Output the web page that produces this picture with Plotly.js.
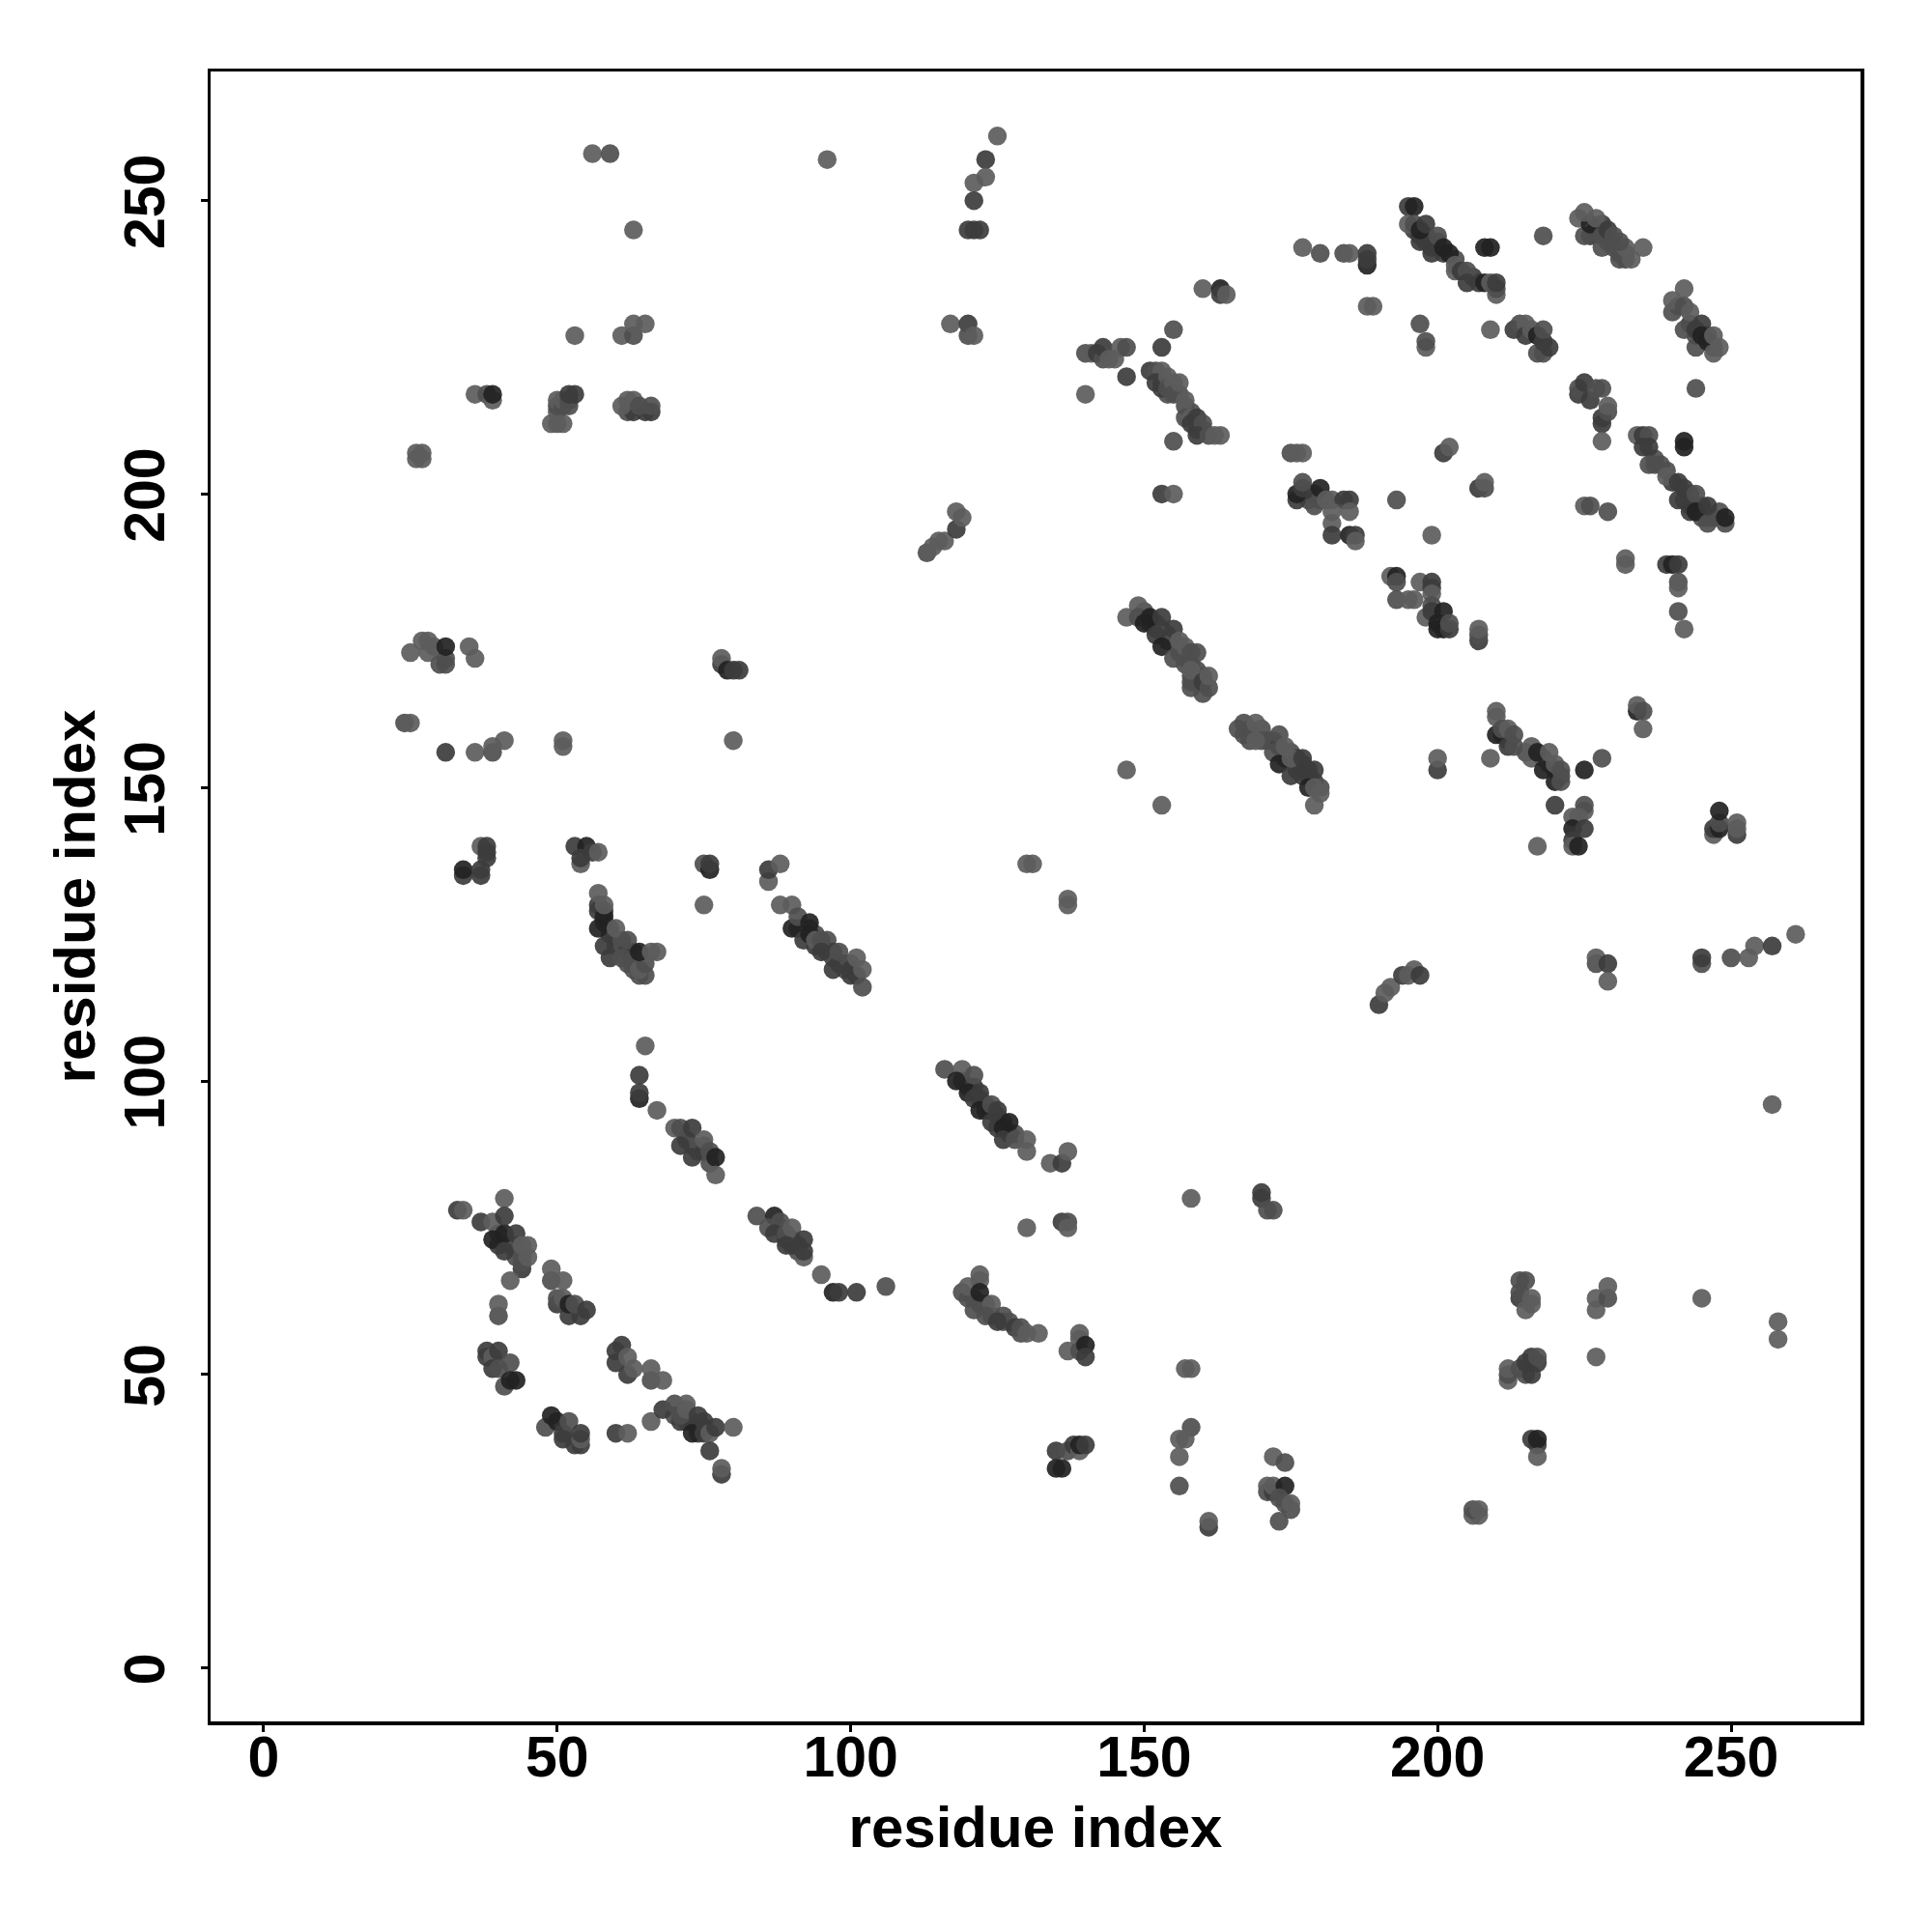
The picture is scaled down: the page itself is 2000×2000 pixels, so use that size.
<!DOCTYPE html>
<html><head><meta charset="utf-8">
<script src="https://cdn.plot.ly/plotly-3.0.1.min.js"></script>
<style>html,body{margin:0;padding:0;background:#fff}</style></head>
<body><div id="chart" style="width:2000px;height:2000px"></div>
<script>
// each contact: [residue i, residue j, weight class 1 (weak) .. 4 (strong)]
const bandFillA = [[91,126,3],[92,126,3],[93,126,3],[94,125,2],[94,123,3],[95,123,3],[96,124,2],[96,122,3],[97,122,3],[97,121,2],[98,120,3],[99,120,3],[99,119,2],[100,120,2],[100,119,3],[101,118,3],[57,130,3],[58,129,3],[58,127,4],[59,126,3],[59,125,3],[60,124,3],[60,123,3],[61,123,2],[61,124,2],[62,122,3],[62,120,2],[63,122,3],[63,119,2],[65,118,2],[64,118,2]];
const bandFillB = [[119,100,3],[120,99,3],[121,99,3],[121,98,3],[122,97,3],[123,96,3],[123,95,3],[124,95,3],[125,94,3],[125,92,3],[126,93,3],[127,91,3],[128,91,2],[150,180,2],[151,178,3],[152,178,3],[152,177,3],[153,177,2],[154,176,2],[154,175,3],[155,175,2],[156,173,2],[156,174,2],[157,172,2],[157,171,2],[158,171,2],[158,169,2],[159,168,2],[160,169,2],[159,170,2],[158,167,2]];
const bandFillC = [[168,160,2],[167,159,2],[170,160,2],[170,158,2],[171,158,2],[172,158,2],[173,157,3],[174,155,3],[175,156,2],[176,155,3],[176,153,3],[177,154,3],[177,152,3],[178,152,3],[178,153,3],[179,151,3],[180,150,2],[196,245,3],[197,244,3],[198,244,3],[199,243,3],[199,242,3],[200,242,3],[200,243,2],[201,241,3],[203,240,2],[206,237,3],[207,236,3],[198,243,3]];
const bandFillD = [[226,244,3],[227,245,3],[228,246,3],[229,243,2],[230,242,2],[231,241,2],[232,241,2],[232,240,2],[237,206,2],[237,205,2],[239,204,2],[240,202,3],[242,199,3],[243,200,2],[243,198,3],[245,198,3],[245,197,3],[245,196,2],[246,196,2],[247,196,2],[248,197,2],[153,219,2],[154,217,2],[156,217,2],[157,215,2],[158,214,2],[159,212,2],[160,211,2],[159,211,2]];
const bandFillE = [[120,63,2],[121,63,2],[122,62,2],[123,62,2],[124,60,2],[127,59,2],[126,59,2],[211,159,3],[212,158,3],[215,156,2],[218,155,3],[219,154,2],[220,153,3],[221,152,2],[88,75,3],[89,73,3],[90,73,3],[91,72,3],[91,71,2],[90,72,3],[40,74,3],[40,72,3],[42,72,3],[43,72,2],[43,70,2],[44,70,2]];
const bandFillF = [[72,90,3],[73,89,2],[74,88,2],[75,89,2],[75,88,3],[76,86,2],[241,232,2],[243,229,3],[244,227,2],[246,227,3],[247,225,2],[178,200,3],[178,199,2],[179,200,3],[180,199,2],[70,43,2],[72,42,2],[73,42,3],[74,41,3],[75,41,3],[74,40,3]];
const lowerLeftA = [[33,78,3],[34,78,1],[37,76,3],[39,76,1],[41,80,1],[39,73,4],[41,74,4],[41,71,3],[41,77,3],[43,74,3],[44,68,3],[44,69,2],[45,70,1],[44,72,1],[45,72,1],[42,66,1],[40,60,2],[40,62,1]];
const lowerLeftB = [[49,66,2],[49,68,1],[51,66,1],[50,62,3],[50,63,2],[51,63,1],[52,60,3],[54,60,3],[52,62,4],[53,62,2],[55,61,3]];
const lowerLeftC = [[38,54,3],[38,53,3],[39,53,1],[40,54,3],[39,51,3],[40,51,2],[41,48,2],[42,52,2],[42,49,4],[43,49,4]];
const lowerLeftD = [[60,54,3],[60,52,3],[61,55,3],[62,50,3],[62,53,1],[63,51,1],[66,49,2],[66,51,1],[68,49,1]];
const lowerLeftE = [[48,41,2],[49,43,4],[50,42,4],[51,39,3],[51,40,3],[52,42,2],[54,38,3],[53,38,3],[54,39,1],[54,40,3],[60,40,3],[62,40,1]];
const lowerLeftF = [[66,42,1],[68,44,3],[70,45,2],[71,42,3],[71,43,2],[72,45,1],[72,44,1],[73,40,4],[75,40,3],[75,42,3],[74,43,3],[76,40,1],[77,41,3],[80,41,1],[76,37,3],[78,33,3],[78,34,1]];
const sheetA = [[84,77,2],[87,77,4],[86,75,2],[88,76,2],[87,74,3],[89,74,2],[90,75,1],[89,72,3],[92,70,1],[92,71,3],[92,73,3],[95,67,1],[97,64,4],[98,64,3],[101,64,3],[106,65,2]];
const strandA = [[34,135,3],[34,136,4],[37,135,3],[37,136,3],[37,140,1],[38,138,3],[38,139,3],[38,140,3]];
const strandB = [[53,140,3],[55,140,4],[54,137,1],[54,138,3],[56,139,3],[57,139,1]];
const strandC = [[57,129,3],[58,128,4],[57,132,1],[58,130,1],[57,126,4],[58,123,3],[60,126,1],[59,121,3],[62,124,2],[61,121,2],[63,120,2],[64,119,1],[65,120,2],[64,122,4],[66,122,1],[67,122,1]];
const strandD = [[75,137,2],[76,136,4],[76,137,3],[75,130,1],[86,134,1],[86,136,3],[88,137,1]];
const strandE = [[88,130,1],[90,130,1],[90,126,4],[91,128,2],[92,124,3],[93,125,4],[93,127,4],[94,124,1],[95,124,2],[95,122,3],[97,119,3],[98,122,2],[100,118,3],[101,121,1],[102,119,1],[102,116,2]];
const strandF = [[65,106,1],[64,101,3],[64,97,4],[64,98,3],[67,95,1],[70,92,1],[71,92,2],[73,92,3],[71,89,3],[73,87,3],[75,90,1],[76,88,2],[77,87,4],[77,84,1]];
const upperLeftA = [[56,258,1],[59,258,2],[96,257,1],[125,261,1],[123,257,3],[123,254,1],[121,253,1],[121,250,3],[120,245,3],[121,245,3],[122,245,3],[63,245,1],[117,229,1],[120,229,3],[120,227,2],[121,227,1]];
const upperLeftB = [[53,227,1],[61,227,1],[63,227,2],[63,229,1],[65,229,1],[36,217,1],[38,217,2],[39,216,1],[39,217,4]];
const upperLeftC = [[49,212,1],[50,212,1],[51,212,1],[50,214,1],[50,215,2],[50,216,1],[51,215,2],[51,216,1],[52,215,2],[52,216,2],[52,217,3],[53,217,3]];
const upperLeftD = [[62,214,2],[63,214,3],[65,214,3],[66,214,3],[61,215,1],[62,216,1],[63,216,1],[64,215,2],[66,215,2],[26,206,1],[27,206,1],[26,207,1],[27,207,1]];
const midA = [[140,224,2],[141,224,1],[142,224,3],[143,223,2],[143,225,3],[144,223,1],[145,223,1],[146,225,1],[147,225,2],[140,217,1],[147,220,3],[153,225,3],[155,228,2]];
const midB = [[151,221,3],[152,221,2],[153,221,1],[152,219,3],[153,218,3],[154,220,1],[154,218,2],[155,219,1],[155,217,2],[156,219,1],[157,216,1]];
const midC = [[157,213,2],[158,213,1],[158,212,3],[159,213,3],[160,212,2],[159,210,3],[161,210,2],[162,210,1],[163,210,1],[155,209,2],[153,200,3],[155,200,1]];
const midD = [[160,235,1],[163,235,4],[163,234,3],[164,234,1],[175,207,2],[176,207,1],[177,207,1],[177,242,1],[180,241,2],[184,241,2],[185,241,1],[188,239,4],[188,240,3],[188,241,3],[188,232,1],[189,232,1]];
const upperRightA = [[195,249,3],[196,249,4],[195,246,1],[196,246,2],[197,243,3],[197,245,4],[198,246,3],[199,241,3],[200,244,2],[201,242,4],[202,241,4],[203,238,1],[203,239,1],[204,238,3],[205,238,2],[205,236,3],[208,236,4],[209,236,1],[210,234,1],[210,235,2],[210,236,3],[208,242,4],[209,242,4],[218,244,2]];
const upperRightB = [[224,247,1],[225,244,2],[226,246,4],[225,248,1],[227,247,1],[228,244,2],[229,245,3],[228,242,2],[230,244,2],[231,240,2],[232,242,1],[231,243,2],[233,240,1],[235,242,1]];
const upperRightC = [[197,229,2],[198,225,1],[198,226,2],[209,228,1],[213,228,3],[214,229,2],[215,229,1],[215,227,3],[216,228,1],[217,224,2],[218,224,2],[217,227,4],[218,226,3],[218,228,2],[219,225,3]];
const upperRightD = [[224,217,3],[224,218,2],[225,219,3],[226,216,3],[227,218,2],[228,218,2],[228,212,3],[228,213,3],[229,214,2],[229,215,1],[244,218,2],[228,209,1]];
const upperRightE = [[242,235,1],[240,231,2],[240,233,1],[242,232,2],[243,231,1],[242,228,2],[244,225,2],[244,228,3],[245,229,3],[245,227,4],[246,226,4],[247,224,1],[247,227,1],[248,225,1]];
const upperRightF = [[234,210,1],[235,210,3],[236,210,2],[235,208,3],[236,208,3],[236,205,2],[238,205,2],[239,203,1],[241,202,3],[242,201,3],[241,199,3],[243,197,3],[244,200,2],[244,197,4],[246,195,2],[246,198,3],[249,195,2],[249,196,4],[242,208,4],[242,209,4]];
const upperRightG = [[225,198,1],[226,198,2],[229,197,2],[201,207,3],[202,208,1],[207,201,3],[208,201,2],[208,202,1],[193,199,2],[199,193,1],[232,188,1],[232,189,1],[239,188,3],[240,188,4],[241,188,3],[241,185,2],[241,184,1],[241,180,2],[242,177,1]];
const upperRightH = [[176,199,3],[176,200,4],[177,201,3],[177,202,2],[179,198,2],[180,201,4],[181,199,1],[182,199,1],[184,199,3],[185,199,3],[185,197,1],[182,197,1],[182,195,1],[182,193,3],[185,193,4],[186,193,3],[186,192,1]];
const upperRightI = [[192,186,1],[193,186,4],[193,185,2],[193,182,2],[195,182,1],[196,182,1],[197,185,1],[198,179,1],[199,185,3],[199,184,3],[199,183,1],[199,181,2],[199,180,3],[200,177,4],[200,178,4],[201,180,4],[201,177,4],[202,177,3],[202,178,2],[207,175,3],[207,176,2],[207,177,1]];
const beltA = [[147,179,1],[149,181,1],[149,179,2],[150,178,4],[151,179,4],[153,179,3],[152,176,3],[153,174,4],[155,177,3],[155,172,2],[156,175,1],[157,174,1],[158,173,2],[159,173,2],[158,168,2],[158,170,1],[160,166,2],[160,168,3],[161,167,2],[161,169,1]];
const beltB = [[166,160,2],[167,161,2],[169,161,1],[168,158,2],[169,158,1],[172,156,2],[173,154,4],[173,159,2],[174,157,1],[175,152,3],[175,155,1],[177,155,3],[178,150,4],[179,153,3],[179,147,1],[179,150,1],[180,149,1]];
const beltC = [[209,155,1],[210,159,4],[210,162,1],[210,163,1],[211,160,2],[212,157,3],[212,160,1],[213,157,2],[213,159,2],[216,155,1],[216,157,1],[217,156,4],[218,153,4],[219,156,1],[220,151,4],[220,154,1],[221,151,2],[221,153,2],[225,153,4],[228,155,2],[200,153,3],[200,155,1],[147,153,1],[153,147,1]];
const beltD = [[220,147,3],[225,146,1],[225,147,2],[223,145,1],[224,145,1],[223,143,4],[225,143,3],[223,141,3],[223,140,1],[224,140,4],[217,140,1],[234,163,4],[234,164,1],[235,163,2],[235,160,1],[247,142,1],[247,143,3],[248,143,4],[248,144,2],[248,146,4],[251,142,3],[251,143,1],[251,144,1]];
const centerA = [[113,190,2],[114,191,1],[115,192,1],[116,192,1],[118,194,3],[118,197,1],[119,196,1],[78,171,3],[78,172,1],[79,170,4],[80,170,3],[81,170,3],[80,158,1]];
const centerB = [[25,173,1],[27,175,1],[28,175,1],[28,173,1],[29,174,1],[30,171,2],[31,171,2],[31,172,2],[31,174,4],[35,174,1],[36,172,1],[24,161,2],[25,161,1],[31,156,3],[36,156,1],[39,156,2],[39,157,1],[41,158,1],[51,157,1],[51,158,1]];
const centerC = [[130,137,1],[131,137,1],[137,130,1],[137,131,1],[190,113,3],[191,115,1],[192,116,1],[194,118,3],[195,118,1],[196,119,1],[197,118,3]];
const rightA = [[227,120,2],[227,121,1],[229,120,3],[229,117,1],[245,120,2],[245,121,3],[250,121,2],[253,121,1],[254,123,1],[257,123,3],[261,125,1],[257,96,1]];
const lowerMidA = [[116,102,2],[119,102,1],[118,100,4],[121,101,2],[120,98,4],[122,98,3],[121,97,3],[122,95,4],[124,96,2],[125,95,3],[124,93,3],[126,92,4],[126,90,3],[127,93,4],[128,90,2],[130,90,1],[130,88,1],[134,86,1],[136,86,3],[137,88,1]];
const lowerMidB = [[136,76,3],[137,76,2],[137,75,1],[130,75,1],[158,80,1],[170,81,3],[170,80,3],[171,78,2],[172,78,2]];
const lowerMidC = [[122,67,1],[122,66,1],[119,64,2],[120,65,1],[122,64,4],[124,62,1],[121,61,2],[123,60,2],[126,60,2],[125,59,3],[128,58,3],[129,57,2],[129,58,2],[130,57,1],[132,57,1]];
const lowerMidD = [[139,57,1],[139,56,1],[137,54,1],[139,54,2],[140,55,4],[140,53,3],[157,51,1],[158,51,1],[158,41,2],[156,39,1],[157,39,1],[156,36,1],[156,31,2]];
const lowerMidE = [[135,37,3],[137,37,2],[138,38,3],[139,37,1],[139,38,4],[140,38,3],[135,34,4],[136,34,4],[161,24,3],[161,25,1]];
const lowerRightA = [[172,36,1],[174,35,2],[171,30,2],[171,31,1],[172,30,3],[172,31,1],[174,31,4],[173,29,2],[174,28,2],[175,27,2],[175,28,1],[173,25,2],[206,26,1],[207,26,1],[206,27,2],[207,27,1]];
const lowerRightB = [[212,49,1],[212,50,2],[212,51,1],[214,51,2],[215,50,2],[216,50,3],[215,52,3],[216,53,3],[217,52,3],[217,53,2],[216,39,3],[217,38,3],[217,39,4],[217,36,1]];
const lowerRightC = [[214,63,3],[214,64,2],[214,66,2],[215,66,2],[216,63,1],[215,61,1],[216,62,1],[227,61,1],[227,63,1],[229,63,2],[229,65,1],[227,53,1],[245,63,1],[258,59,1],[258,56,1]];

const axisTicks = [0, 50, 100, 150, 200, 250];
const axisLabel = 'residue index';

const contacts = [].concat(bandFillA, bandFillB, bandFillC, bandFillD, bandFillE, bandFillF,
  lowerLeftA, lowerLeftB, lowerLeftC, lowerLeftD, lowerLeftE, lowerLeftF, sheetA,
  strandA, strandB, strandC, strandD, strandE, strandF, upperLeftA, upperLeftB, upperLeftC, upperLeftD,
  midA, midB, midC, midD, upperRightA, upperRightB, upperRightC, upperRightD, upperRightE, upperRightF,
  upperRightG, upperRightH, upperRightI, beltA, beltB, beltC, beltD, centerA, centerB, centerC, rightA,
  lowerMidA, lowerMidB, lowerMidC, lowerMidD, lowerMidE, lowerRightA, lowerRightB, lowerRightC);

const shade = {1: 'rgba(92,92,92,0.92)', 2: 'rgba(78,78,78,0.92)', 3: 'rgba(60,60,60,0.92)', 4: 'rgba(34,34,34,0.92)'};

const axisBase = {
  tickmode: 'array', tickvals: axisTicks, ticktext: axisTicks.map(String),
  ticks: 'outside', ticklen: 7, tickwidth: 3, tickcolor: '#000',
  showline: true, linecolor: '#000', linewidth: 3.5, mirror: true,
  showgrid: false, zeroline: false,
  tickfont: {family: 'Liberation Sans', size: 59, color: '#000', weight: 700},
  automargin: false
};
const titleFont = {family: 'Liberation Sans', size: 60, color: '#000', weight: 700};

Plotly.newPlot('chart', [{
  type: 'scatter', mode: 'markers',
  x: contacts.map(c => c[0]), y: contacts.map(c => c[1]),
  marker: {size: 19.5, color: contacts.map(c => shade[c[2]]), line: {width: 0}},
  hoverinfo: 'skip', showlegend: false
}], {
  width: 2000, height: 2000,
  paper_bgcolor: '#fff', plot_bgcolor: '#fff',
  margin: {l: 218, r: 74, t: 74, b: 218, pad: 0},
  xaxis: Object.assign({}, axisBase, {range: [-9.05, 272.05], ticklabelstandoff: -24, title: {text: axisLabel, font: titleFont, standoff: 19}}),
  yaxis: Object.assign({}, axisBase, {range: [-9.1, 272.0], tickangle: -90, ticklabelstandoff: 14, ticklabelshift: 10, title: {text: axisLabel, font: titleFont, standoff: 0}})
}, {displayModeBar: false, staticPlot: true});
</script></body></html>
